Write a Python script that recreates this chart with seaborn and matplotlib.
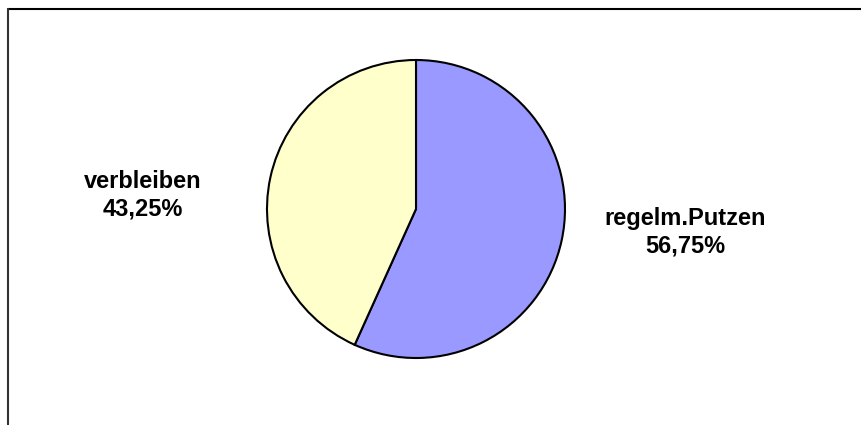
import matplotlib
matplotlib.use('Agg')
import matplotlib.pyplot as plt
from matplotlib.lines import Line2D
import seaborn as sns

# chart data
categories = ['regelm.Putzen', 'verbleiben']
shares = [56.75, 43.25]
pct_labels = ['56,75%', '43,25%']
colors = ['#9999FF', '#FFFFCC']
# label anchor points in pie units (radius = 1)
label_pos = [(1.805, -0.154), (-1.832, 0.094)]

sns.set_style('white')
plt.rcParams['font.family'] = ['Liberation Sans', 'DejaVu Sans']

fig = plt.figure(figsize=(8.62, 4.25), dpi=100)
ax = fig.add_axes([0, 0, 1, 1])

ax.pie(shares, colors=colors, startangle=90, counterclock=False,
       radius=1.0, wedgeprops=dict(edgecolor='black', linewidth=1.5))

for (x, y), cat, pct in zip(label_pos, categories, pct_labels):
    ax.text(x, y, f'{cat}\n{pct}', ha='center', va='center',
            fontsize=17, fontweight='bold', color='black', linespacing=1.25)

# map pixels -> pie units (center at 416,209 px, radius 149 px)
scale = 149.0
ax.set_xlim(-416 / scale, (862 - 416) / scale)
ax.set_ylim((209 - 425) / scale, 209 / scale)
ax.set_aspect('auto')
ax.axis('off')

# chart area frame (only top and left visible)
fig.add_artist(Line2D([8 / 862, 1], [1 - 9 / 425, 1 - 9 / 425],
                      transform=fig.transFigure, color='black', linewidth=1.5))
fig.add_artist(Line2D([8 / 862, 8 / 862], [0, 1 - 9 / 425],
                      transform=fig.transFigure, color='#333333', linewidth=1.5))

fig.savefig('out.png', dpi=100)
plt.close(fig)
